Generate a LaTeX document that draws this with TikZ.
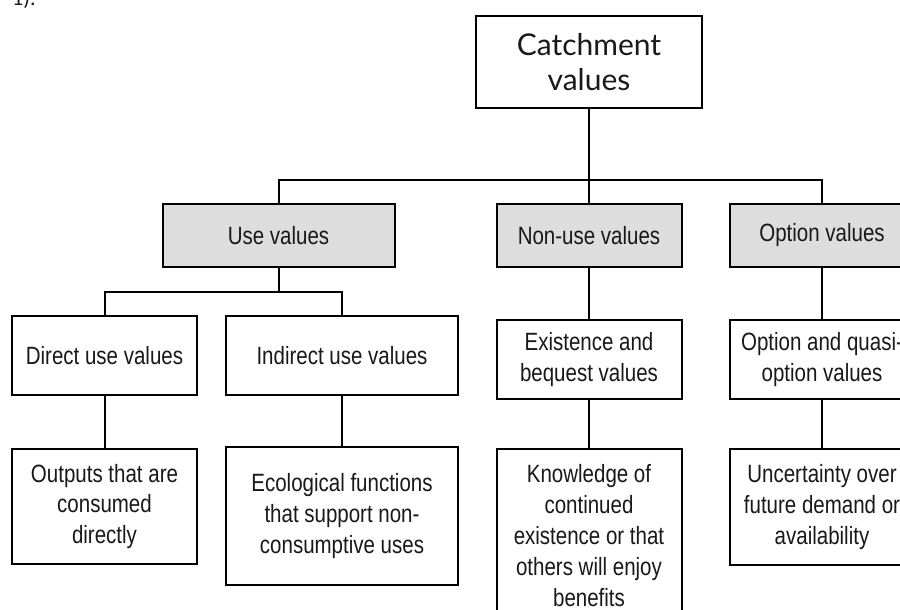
\documentclass[tikz,border=0pt]{standalone}
\usepackage{fontspec}
\newfontfamily\narrowfont{Liberation Sans}[FakeStretch=0.82]
\newfontfamily\titlefont{Lato}
\newfontfamily\notefont{Carlito}
\usetikzlibrary{positioning}
\definecolor{headgray}{RGB}{221,221,221}
\definecolor{inkgray}{RGB}{25,25,25}

\begin{document}
\begin{tikzpicture}[x=1pt, y=1pt,
            topnode/.style={rectangle, draw=black, fill=white, line width=2pt, minimum width=226pt, minimum height=92pt, inner sep=0pt, align=center, text=inkgray, font=\titlefont\fontsize{30}{35}\selectfont},
            headnode/.style={rectangle, draw=black, fill=headgray, line width=2pt, minimum width=185pt, minimum height=63pt, inner sep=0pt, align=center, text=inkgray, font=\narrowfont\fontsize{25}{30.8}\selectfont},
            valuenode/.style={headnode, fill=white, minimum height=79pt},
            wide/.style={minimum width=232pt},
            link/.style={line width=2pt},
        ]
        \useasboundingbox (0,0) rectangle (900,-610);
        \clip (0,0) rectangle (900,-610);

        \node[anchor=base west, inner sep=0pt, text=inkgray, font=\notefont\fontsize{22}{26}\selectfont] (fignum) at (12,-6) {1).};

        \node[topnode] (catch) at (589,-62) {Catchment\\values};
        \node[headnode] (nonuse) [below=94pt of catch] {Non-use values};
        \node[headnode, wide] (use) [left=100pt of nonuse] {Use values};
        \node[headnode] (optv) [right=46pt of nonuse] {Option values};

        \node[valuenode] (direct) at (104.5,-355.5) {Direct use values};
        \node[valuenode, wide] (indirect) [right=27pt of direct] {Indirect use values};
        \node[valuenode] (exist) [below=51pt of nonuse] {Existence and\\bequest values};
        \node[valuenode] (quasi) [below=51pt of optv] {Option and quasi-\\option values};

        \node[valuenode, minimum height=115pt] (outputs) [below=52pt of direct] {Outputs that are\\consumed\\directly};
        \node[valuenode, wide, minimum height=138pt] (ecol) [below=50pt of indirect] {Ecological functions\\that support non-\\consumptive uses};
        \node[valuenode, minimum height=173pt] (know) [below=48pt of exist] {Knowledge of\\continued\\existence or that\\others will enjoy\\benefits};
        \node[valuenode, minimum height=116pt] (uncert) [below=48pt of quasi] {Uncertainty over\\future demand or\\availability};

        \draw[link] (catch) -- (nonuse);
        \draw[link] (use.north) -- ++(0,23) coordinate (mainbus) -| (optv.north);
        \draw[link] (direct.north) -- ++(0,23) coordinate (subbus) -| (indirect.north);
        \draw[link] (use.south) -- (use.south |- subbus);
        \draw[link] (nonuse) -- (exist);
        \draw[link] (optv) -- (quasi);
        \draw[link] (direct) -- (outputs);
        \draw[link] (indirect) -- (ecol);
        \draw[link] (exist) -- (know);
        \draw[link] (quasi) -- (uncert);
    \end{tikzpicture}
\end{document}
